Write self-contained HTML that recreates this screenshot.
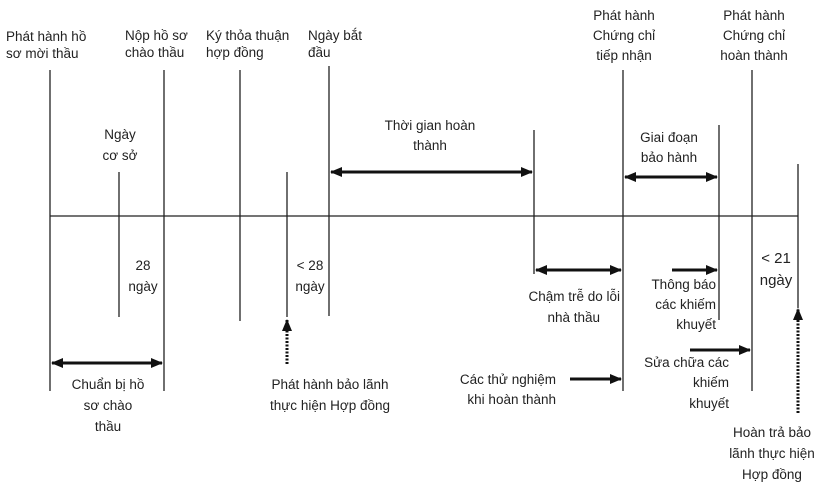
<!DOCTYPE html>
<html><head><meta charset="utf-8"><style>
html,body{margin:0;padding:0;background:#fff;}
svg{display:block;}
text{font-family:"Liberation Sans","DejaVu Sans",sans-serif;font-size:13.5px;fill:#222;}
</style></head><body>
<svg width="826" height="487" viewBox="0 0 826 487" xmlns="http://www.w3.org/2000/svg">
<defs>
<marker id="ah" markerWidth="8" markerHeight="8" refX="7" refY="4" orient="auto-start-reverse" markerUnits="userSpaceOnUse"><path d="M0,0 L8,4 L0,8 z" fill="#111"/></marker>
<marker id="ah2" markerWidth="12" markerHeight="10" refX="11" refY="5" orient="auto-start-reverse" markerUnits="userSpaceOnUse"><path d="M0,0 L12,5 L0,10 z" fill="#111"/></marker>
</defs>
<g stroke="#222" stroke-width="1.3">
<line x1="50" y1="216" x2="798" y2="216"/>
<line x1="50" y1="70" x2="50" y2="391"/>
<line x1="119" y1="172" x2="119" y2="317"/>
<line x1="164" y1="70" x2="164" y2="391"/>
<line x1="240" y1="70" x2="240" y2="321"/>
<line x1="287" y1="172" x2="287" y2="317"/>
<line x1="329" y1="66" x2="329" y2="316"/>
<line x1="534" y1="130" x2="534" y2="274"/>
<line x1="623" y1="70" x2="623" y2="391"/>
<line x1="719" y1="125" x2="719" y2="320"/>
<line x1="752" y1="70" x2="752" y2="391"/>
<line x1="798" y1="164" x2="798" y2="308"/>
</g>
<g stroke="#111" stroke-width="3" fill="none">
<line x1="52" y1="363" x2="162" y2="363" marker-start="url(#ah2)" marker-end="url(#ah2)"/>
<line x1="331" y1="172" x2="532" y2="172" marker-start="url(#ah2)" marker-end="url(#ah2)"/>
<line x1="625" y1="177" x2="717" y2="177" marker-start="url(#ah2)" marker-end="url(#ah2)"/>
<line x1="536" y1="270" x2="621" y2="270" marker-start="url(#ah2)" marker-end="url(#ah2)"/>
<line x1="672" y1="270" x2="717" y2="270" marker-end="url(#ah2)"/>
<line x1="690" y1="350" x2="750" y2="350" marker-end="url(#ah2)"/>
<line x1="570" y1="379" x2="621" y2="379" marker-end="url(#ah2)"/>
<line x1="287" y1="364" x2="287" y2="320" stroke-dasharray="2,1.5" marker-end="url(#ah2)"/>
<line x1="798" y1="413" x2="798" y2="309" stroke-dasharray="2,1.5" marker-end="url(#ah2)"/>
</g>
<g>
<text x="6" y="41">Phát hành hồ</text>
<text x="6" y="58">sơ mời thầu</text>
<text x="125" y="40">Nộp hồ sơ</text>
<text x="125" y="57">chào thầu</text>
<text x="206" y="40">Ký thỏa thuận</text>
<text x="206" y="57">hợp đồng</text>
<text x="308" y="40">Ngày bắt</text>
<text x="308" y="57">đầu</text>
<text x="120" y="139" text-anchor="middle">Ngày</text>
<text x="120" y="160" text-anchor="middle">cơ sở</text>
<text x="430" y="130" text-anchor="middle">Thời gian hoàn</text>
<text x="430" y="150" text-anchor="middle">thành</text>
<text x="624" y="20" text-anchor="middle">Phát hành</text>
<text x="624" y="40" text-anchor="middle">Chứng chỉ</text>
<text x="624" y="60" text-anchor="middle">tiếp nhận</text>
<text x="754" y="20" text-anchor="middle">Phát hành</text>
<text x="754" y="40" text-anchor="middle">Chứng chỉ</text>
<text x="754" y="60" text-anchor="middle">hoàn thành</text>
<text x="669" y="142" text-anchor="middle">Giai đoạn</text>
<text x="669" y="162" text-anchor="middle">bảo hành</text>
<text x="143" y="270" text-anchor="middle">28</text>
<text x="143" y="291" text-anchor="middle">ngày</text>
<text x="310" y="270" text-anchor="middle">&lt; 28</text>
<text x="310" y="291" text-anchor="middle">ngày</text>
<text x="776" y="263" text-anchor="middle" style="font-size:15px">&lt; 21</text>
<text x="776" y="285" text-anchor="middle" style="font-size:15px">ngày</text>
<text x="108" y="389" text-anchor="middle">Chuẩn bị hồ</text>
<text x="108" y="410" text-anchor="middle">sơ chào</text>
<text x="108" y="431" text-anchor="middle">thầu</text>
<text x="330" y="389" text-anchor="middle">Phát hành bảo lãnh</text>
<text x="330" y="410" text-anchor="middle">thực hiện Hợp đồng</text>
<text x="620" y="301" text-anchor="end">Chậm trễ do lỗi</text>
<text x="600" y="322" text-anchor="end">nhà thầu</text>
<text x="556" y="384" text-anchor="end">Các thử nghiệm</text>
<text x="556" y="404" text-anchor="end">khi hoàn thành</text>
<text x="716" y="289" text-anchor="end">Thông báo</text>
<text x="716" y="309" text-anchor="end">các khiếm</text>
<text x="716" y="329" text-anchor="end">khuyết</text>
<text x="729" y="367" text-anchor="end">Sửa chữa các</text>
<text x="729" y="387" text-anchor="end">khiếm</text>
<text x="729" y="408" text-anchor="end">khuyết</text>
<text x="772" y="437" text-anchor="middle">Hoàn trả bảo</text>
<text x="772" y="458" text-anchor="middle">lãnh thực hiện</text>
<text x="772" y="479" text-anchor="middle">Hợp đồng</text>
</g>
</svg>
</body></html>
